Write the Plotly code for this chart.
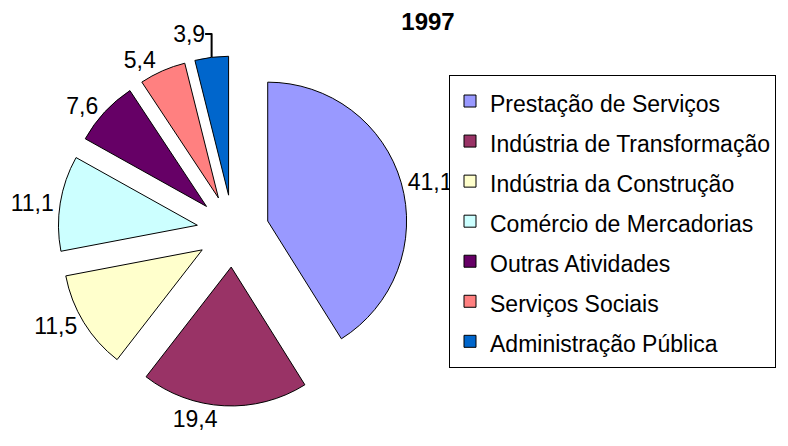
import plotly.graph_objects as go

categories = [
    "Prestação de Serviços",
    "Indústria de Transformação",
    "Indústria da Construção",
    "Comércio de Mercadorias",
    "Outras Atividades",
    "Serviços Sociais",
    "Administração Pública",
]
values = [41.1, 19.4, 11.5, 11.1, 7.6, 5.4, 3.9]
colors = ["#9999FF", "#993366", "#FFFFCC", "#CCFFFF", "#660066", "#FF8080", "#0066CC"]
title_text = "1997"

W, H = 788, 446
FONT = "Arial, Liberation Sans, sans-serif"

# legend labels drawn at 23px inside a taller legend font (gives the 40px row pitch)
legend_labels = ['<span style="font-size:23px">%s</span>' % c for c in categories]

fig = go.Figure(
    go.Pie(
        labels=legend_labels,
        values=values,
        sort=False,
        direction="clockwise",
        rotation=0,
        pull=[0.26] * len(values),
        marker=dict(colors=colors, line=dict(color="black", width=1)),
        textposition="outside",
        texttemplate="%{value:.1f}",
        textfont=dict(family=FONT, size=23, color="black"),
        hoverinfo="label+value",
        domain=dict(x=[50 / W, 400 / W], y=[1 - 398 / H, 1 - 48 / H]),
    )
)

fig.update_layout(
    width=W,
    height=H,
    margin=dict(l=0, r=0, t=0, b=0, autoexpand=False),
    paper_bgcolor="white",
    plot_bgcolor="white",
    separators=",.",
    font=dict(family=FONT, color="black"),
    title=dict(
        text="<b>%s</b>" % title_text,
        x=420 / W,
        xanchor="center",
        xref="container",
        y=1 - 14 / H,
        yanchor="middle",
        yref="container",
        font=dict(family=FONT, size=24, color="black"),
    ),
    legend=dict(
        x=441 / W,
        xanchor="left",
        y=1 - 67 / H,
        yanchor="top",
        bgcolor="white",
        bordercolor="black",
        borderwidth=1,
        font=dict(family=FONT, size=28.5, color="black"),
        traceorder="normal",
    ),
    showlegend=True,
)

fig.write_html("out.html")
